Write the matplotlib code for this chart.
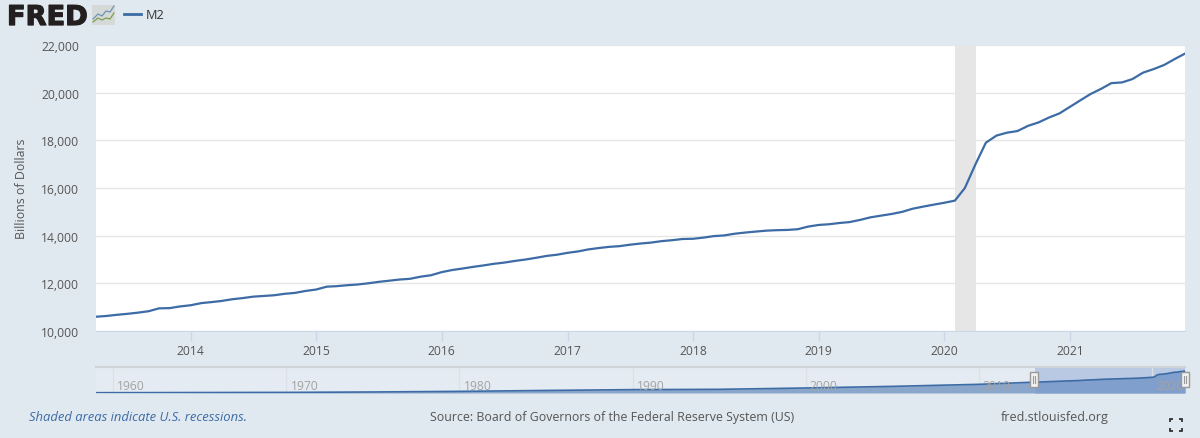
"""FRED M2 chart with navigator strip."""

import matplotlib

matplotlib.use("Agg")
import matplotlib.dates as mdates
import matplotlib.patheffects as pe
import matplotlib.pyplot as plt
import pandas as pd

# monthly M2, Apr 2013 - Dec 2021, billions of dollars
m2_values = [
    10600, 10630, 10680, 10720, 10770, 10830, 10950, 10960, 11030,
    11080, 11170, 11210, 11260, 11330, 11380, 11440, 11470, 11500, 11560, 11600, 11680,
    11740, 11860, 11880, 11920, 11950, 12000, 12060, 12110, 12160, 12190, 12280, 12340,
    12470, 12560, 12620, 12690, 12750, 12820, 12870, 12940, 13000, 13070, 13150, 13200,
    13280, 13340, 13420, 13480, 13530, 13560, 13620, 13670, 13710, 13770, 13810, 13860,
    13870, 13920, 13980, 14010, 14080, 14130, 14170, 14210, 14230, 14240, 14270, 14380,
    14450, 14480, 14530, 14570, 14660, 14770, 14840, 14910, 15000, 15130, 15220, 15300,
    15380, 15470, 16000, 17000, 17900, 18200, 18320, 18390, 18610, 18750, 18960, 19130,
    19410, 19690, 19940, 20160, 20400, 20430, 20570, 20840, 20990, 21160, 21410, 21640,
]
y_ticks = [10000, 12000, 14000, 16000, 18000, 20000, 22000]
year_ticks = [2014, 2015, 2016, 2017, 2018, 2019, 2020, 2021]
recession = ("2020-02-01", "2020-04-01")

# navigator history, Jan of each listed year
nav_years = [1959, 1965, 1970, 1975, 1980, 1985, 1990, 1995, 2000, 2005, 2010, 2013]
nav_values = [290, 450, 600, 1000, 1600, 2500, 3300, 3600, 4900, 6500, 8500, 10500]
nav_ticks = [1960, 1970, 1980, 1990, 2000, 2010, 2020]

BG = "#e1e9f0"
LINE = "#3c6ba5"
TEXT = "#555555"
W, H = 1200, 439


def axes_px(fig, left, top, right, bottom):
    return fig.add_axes(
        [left / W, 1 - bottom / H, (right - left) / W, (bottom - top) / H]
    )


def main() -> None:
    plt.rcParams["font.family"] = ["Open Sans", "DejaVu Sans"]
    plt.rcParams["font.size"] = 8.7

    fig = plt.figure(figsize=(W / 100, H / 100), dpi=100, facecolor=BG)

    dates = pd.date_range("2013-04-01", periods=len(m2_values), freq="MS")

    # main chart
    ax = axes_px(fig, 96, 46, 1185, 332)
    ax.plot(dates, m2_values, color=LINE, linewidth=1.6, zorder=3, solid_joinstyle="round")
    ax.axvspan(pd.Timestamp(recession[0]), pd.Timestamp(recession[1]), color="#e6e6e6", lw=0, zorder=2)
    ax.set_xlim(dates[0], dates[-1])
    ax.set_ylim(10000, 22000)
    ax.set_yticks(y_ticks)
    ax.set_yticklabels([f"{v:,}" for v in y_ticks], color=TEXT)
    ax.set_xticks([pd.Timestamp(f"{y}-01-01") for y in year_ticks])
    ax.xaxis.set_major_formatter(mdates.DateFormatter("%Y"))
    ax.tick_params(axis="y", length=0, pad=12)
    ax.tick_params(axis="x", length=7.2, width=1, color="#ccd6eb", labelcolor=TEXT, pad=2)
    ax.grid(axis="y", color="#e6e6e6", linewidth=1, zorder=1)
    for side in ("top", "left", "right"):
        ax.spines[side].set_visible(False)
    ax.spines["bottom"].set_color("#ccd6eb")
    ax.set_ylabel("Billions of Dollars", color=TEXT, fontsize=8.9)
    ax.yaxis.set_label_coords((28 - 96) / 1089, 0.5)

    # navigator strip
    nav_dates = [pd.Timestamp(f"{y}-01-01") for y in nav_years] + list(dates)
    nav_vals = nav_values + m2_values
    nav = axes_px(fig, 96, 368, 1185, 394)
    nav.set_facecolor("#e4ebf2")
    nav.set_xlim(pd.Timestamp("1959-01-01"), dates[-1])
    nav.set_ylim(0, 25500)
    nav.axvspan(dates[0], dates[-1], color="#b9c9e3", lw=0, zorder=0)
    nav.fill_between(nav_dates, nav_vals, 0, color="#8aa6cb", lw=0, zorder=1)
    nav.fill_between(dates, m2_values, 0, color="#809fcd", lw=0, zorder=1)
    nav.plot(nav_dates, nav_vals, color=LINE, linewidth=1.2, zorder=2)
    for y in nav_ticks:
        t = pd.Timestamp(f"{y}-01-01")
        nav.axvline(t, color="#dbe1e6", linewidth=1, zorder=0.5)
        nav.annotate(str(y), (t, 0), xytext=(3, 3), textcoords="offset points",
                     color="#a3a3a3", fontsize=8.7, zorder=3)
    nav.set_xticks([])
    nav.set_yticks([])
    for side in ("left", "right"):
        nav.spines[side].set_visible(False)
    nav.spines["top"].set_color("#d0d3d6")
    nav.spines["top"].set_linewidth(1.5)
    nav.spines["bottom"].set_visible(False)

    # overlay in pixel coordinates for logo, legend, footer
    over = fig.add_axes([0, 0, 1, 1], facecolor="none")
    over.set_xlim(0, W)
    over.set_ylim(H, 0)
    over.axis("off")

    over.text(7, 26, "FRED", fontsize=19.6, fontweight="bold", color="#231f20",
              family="DejaVu Sans", va="baseline",
              path_effects=[pe.withStroke(linewidth=0.9, foreground="#231f20")])
    over.add_patch(plt.Rectangle((92, 6), 23, 20, color="#d5dad9", lw=0))
    over.plot([93, 98, 102, 106, 110, 114], [20, 15, 17, 12, 13, 7], color="#6f93b5", lw=0.9)
    over.plot([93, 98, 102, 106, 110, 114], [23, 19, 21, 19, 20, 14], color="#7ea04b", lw=0.9)

    over.plot([124, 141], [15, 15], color=LINE, lw=2)
    over.text(146, 15.5, "M2", color="#333333", fontsize=9.2, va="center")

    # navigator handles
    for x in (1034, 1185):
        over.add_patch(plt.Rectangle((x - 4, 373), 8, 15, fc="#f2f2f2", ec="#999999", lw=1, zorder=5))
        over.plot([x - 1, x - 1], [377, 384], color="#999999", lw=0.8, zorder=6)
        over.plot([x + 1, x + 1], [377, 384], color="#999999", lw=0.8, zorder=6)

    over.text(29, 418, "Shaded areas indicate U.S. recessions.", color=LINE,
              style="italic", fontsize=9.4, va="center")
    over.text(612, 418, "Source: Board of Governors of the Federal Reserve System (US)",
              color=TEXT, fontsize=8.9, va="center", ha="center")
    over.text(1055, 418, "fred.stlouisfed.org", color=TEXT, fontsize=9.0, va="center", ha="center")

    # fullscreen corners
    for cx, sx in ((1170, 1), (1182, -1)):
        for cy, sy in ((420, 1), (432, -1)):
            over.plot([cx + 3 * sx, cx, cx], [cy, cy, cy + 3 * sy], color="#222222", lw=1.2,
                      solid_capstyle="butt", solid_joinstyle="miter")

    fig.savefig("out.png", dpi=100, facecolor=BG)
    plt.close(fig)


if __name__ == "__main__":
    main()
